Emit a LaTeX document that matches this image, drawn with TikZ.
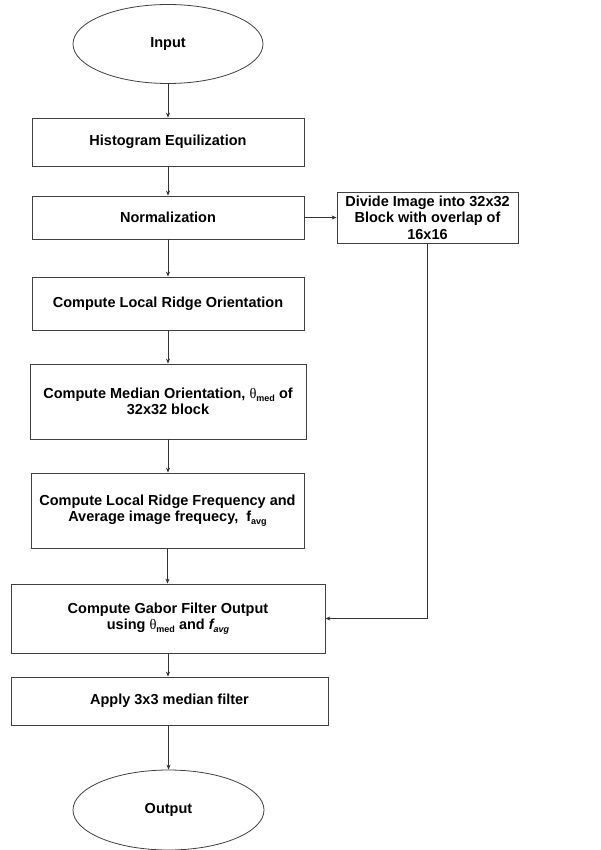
\documentclass[tikz,border=0pt]{standalone}
\usepackage{fontspec}
\setmainfont{Liberation Sans}
\newfontfamily\thetafont{Liberation Serif}
\usetikzlibrary{shapes.geometric,arrows.meta}
\newcommand\sbx[1]{\raisebox{-0.35ex}{\fontsize{9}{9}\selectfont #1}}
\newcommand\thx{{\thetafont\mdseries θ}}
\begin{document}
\begin{tikzpicture}[x=1pt,y=-1pt,
  line width=0.8pt,
  every node/.style={font=\fontsize{14.5}{16.5}\selectfont\bfseries, align=center, inner sep=0pt, draw=black!75},
  boxx/.style={rectangle},
  ovalx/.style={ellipse},
  arr/.style={draw=black!80, line width=0.7pt, -{Stealth[length=5pt,width=4pt]}}]
\useasboundingbox[fill=white] (0,0) rectangle (601,850);
\node[ovalx, minimum width=190, minimum height=79] (in) at (168,44) {Input};
\node[boxx, minimum width=272, minimum height=48] (hist) at (168,142) {Histogram Equilization};
\node[boxx, minimum width=272, minimum height=43] (norm) at (168,217.5) {Normalization};
\node[boxx, minimum width=181, minimum height=51] (div) at (427.5,217.5) {Divide Image into 32x32\\Block with overlap of\\16x16};
\node[boxx, minimum width=272, minimum height=53] (lro) at (168,303.5) {Compute Local Ridge Orientation};
\node[boxx, minimum width=276, minimum height=75] (med) at (168,401.5) {Compute Median Orientation, \thx\sbx{med} of\\32x32 block};
\node[boxx, minimum width=273, minimum height=75] (freq) at (167.5,510.5) {Compute Local Ridge Frequency and\\Average image frequecy,\ \ f\sbx{avg}};
\node[boxx, minimum width=314, minimum height=69] (gab) at (168,618.5) {Compute Gabor Filter Output\\using \thx\sbx{med} and \textit{f\sbx{avg}}};
\node[boxx, minimum width=317, minimum height=48] (app) at (169.5,701) {Apply 3x3 median filter};
\node[ovalx, minimum width=191, minimum height=80] (out) at (168.5,810) {Output};
\draw[arr] (in.south) -- (hist.north);
\draw[arr] (hist.south) -- (norm.north);
\draw[arr] (norm.east) -- (div.west);
\draw[arr] (norm.south) -- (lro.north);
\draw[arr] (lro.south) -- (med.north);
\draw[arr] (med.south) -- (freq.north -| med.south);
\draw[arr] (freq.south) -- (gab.north -| freq.south);
\draw[arr] (div.south) |- (gab.east);
\draw[arr] (gab.south) -- (app.north -| gab.south);
\draw[arr] (app.south -| out.north) -- (out.north);
\end{tikzpicture}
\end{document}
